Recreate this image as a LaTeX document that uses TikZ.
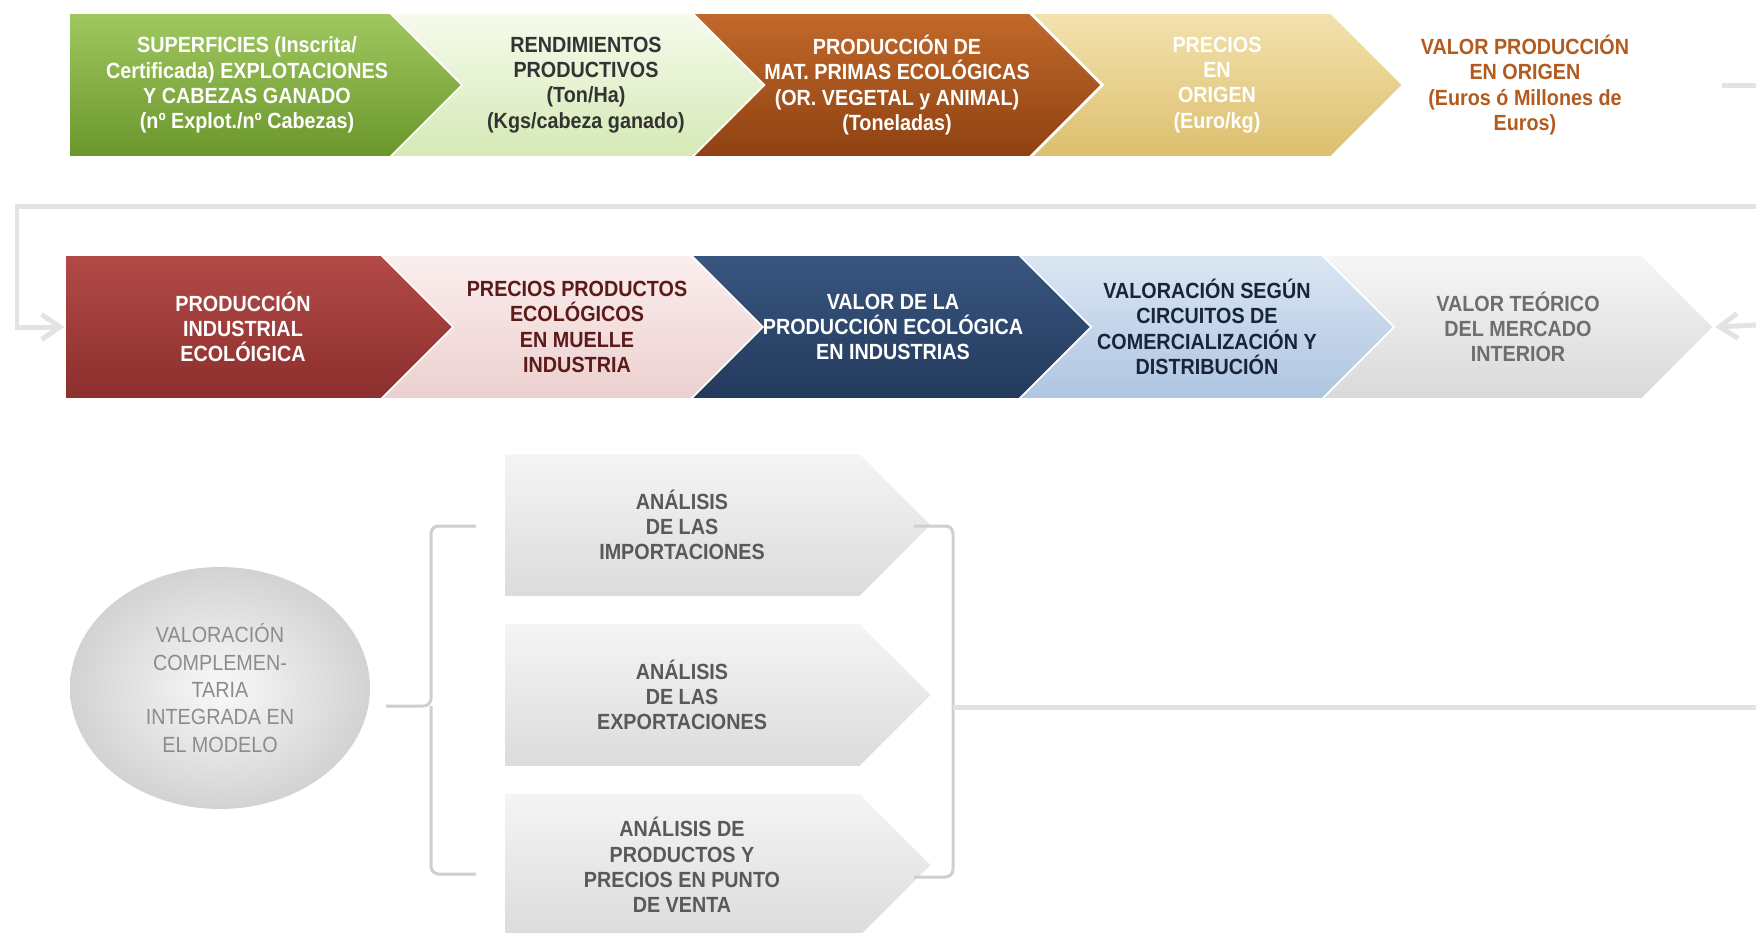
\documentclass[tikz,border=0pt]{standalone}
\usepackage{fontspec}
\setmainfont[FakeStretch=0.9]{Liberation Sans}
\usetikzlibrary{shapes.symbols,shapes.geometric,arrows.meta}
\definecolor{linegray}{HTML}{E3E3E3}
\definecolor{bracegray}{HTML}{CFCFCF}

\begin{document}
\begin{tikzpicture}%
  [x=0.02cm,y=-0.02cm,
   txt/.style={font=\fontsize{12.5}{14.4}\selectfont\bfseries,align=center}]
  \tikzstyle{chev}=[signal,signal to=east,signal from=west,signal pointer angle=90,
    minimum width=7.84cm,minimum height=2.88cm,inner sep=0pt,draw=white,line width=1pt,txt]
  \tikzstyle{first chev}=[chev,signal from=nowhere,minimum width=8.56cm]
  \tikzstyle{conn}=[draw=linegray,line width=0.1cm]
  \tikzstyle{brace}=[draw=bracegray,line width=0.06cm,rounded corners=0.15cm]
  \tikzstyle{tip}=[-{Straight Barb[length=0.36cm,width=0.5cm]}]
  \useasboundingbox (0,0) rectangle (1756,933);
  \fill[white] (0,0) rectangle (1756,933);
  \node(sup)[first chev,top color={rgb,255:red,160;green,200;blue,96},bottom color={rgb,255:red,106;green,150;blue,44},text=white]
    at (247,85) {SUPERFICIES (Inscrita/\\Certificada) EXPLOTACIONES\\Y CABEZAS GANADO\\(nº Explot./nº Cabezas)};
  \node(rend)[chev,top color={rgb,255:red,246;green,251;blue,236},bottom color={rgb,255:red,213;green,233;blue,181},
    text={rgb,255:red,51;green,51;blue,51}]
    at (586,85) {RENDIMIENTOS\\PRODUCTIVOS\\(Ton/Ha)\\(Kgs/cabeza ganado)};
  \node(prod)[chev,top color={rgb,255:red,194;green,105;blue,43},bottom color={rgb,255:red,142;green,65;blue,18},text=white]
    at (897,85) {PRODUCCIÓN DE\\MAT. PRIMAS ECOLÓGICAS\\(OR. VEGETAL y ANIMAL)\\(Toneladas)};
  \node(prec)[chev,minimum width=7.44cm,top color={rgb,255:red,243;green,226;blue,174},bottom color={rgb,255:red,220;green,191;blue,110},text=white]
    at (1217,85) {PRECIOS\\EN\\ORIGEN\\(Euro/kg)};
  \node(valor)[txt,text={rgb,255:red,179;green,90;blue,31}] at (1525,85)
    {VALOR PRODUCCIÓN\\EN ORIGEN\\(Euros ó Millones de\\Euros)};

  \node(indus)[first chev,top color={rgb,255:red,178;green,74;blue,71},bottom color={rgb,255:red,140;green,47;blue,45},text=white]
    at (243,327) {PRODUCCIÓN\\INDUSTRIAL\\ECOLÓIGICA};
  \node(precind)[chev,top color={rgb,255:red,251;green,238;blue,238},bottom color={rgb,255:red,236;green,208;blue,207},
    text={rgb,255:red,92;green,26;blue,24}]
    at (577,327) {PRECIOS PRODUCTOS\\ECOLÓGICOS\\EN MUELLE\\INDUSTRIA};
  \node(valind)[chev,top color={rgb,255:red,58;green,86;blue,128},bottom color={rgb,255:red,34;green,58;blue,92},text=white]
    at (893,327) {VALOR DE LA\\PRODUCCIÓN ECOLÓGICA\\EN INDUSTRIAS};
  \node(circ)[chev,minimum width=7.52cm,top color={rgb,255:red,219;green,230;blue,243},bottom color={rgb,255:red,174;green,197;blue,225},
    text={rgb,255:red,23;green,36;blue,58}]
    at (1207,327) {VALORACIÓN SEGÚN\\CIRCUITOS DE\\COMERCIALIZACIÓN Y\\DISTRIBUCIÓN};
  \node(teor)[chev,top color={rgb,255:red,246;green,246;blue,246},bottom color={rgb,255:red,217;green,217;blue,217},
    text={rgb,255:red,110;green,110;blue,110}]
    at (1518,327) {VALOR TEÓRICO\\DEL MERCADO\\INTERIOR};

  \node(comp)[ellipse,minimum width=6cm,minimum height=4.84cm,inner color=gray!5,outer color=gray!35,
    font=\fontsize{12.5}{15.6}\selectfont,align=center,text=gray!90] at (220,688)
    {VALORACIÓN\\COMPLEMEN-\\TARIA\\INTEGRADA EN\\EL MODELO};
  \node(imp)[first chev,top color=gray!8,bottom color=gray!28,text=black!65] at (682,525)
    {ANÁLISIS\\DE LAS\\IMPORTACIONES};
  \node(exp)[first chev,top color=gray!8,bottom color=gray!28,text=black!65] at (682,695)
    {ANÁLISIS\\DE LAS\\EXPORTACIONES};
  \node(venta)[first chev,top color=gray!8,bottom color=gray!28,text=black!65] at (682,865)
    {ANÁLISIS DE\\PRODUCTOS Y\\PRECIOS EN PUNTO\\DE VENTA};

  \coordinate(topstub) at (1722,85);
  \coordinate(topedge) at (1756,85);
  \coordinate(loopedge) at (1756,206);
  \coordinate(loopcorner) at (17,206);
  \coordinate(rightedge) at (1756,325);
  \coordinate(lbtop) at (476,526);
  \coordinate(lbbot) at (476,874);
  \coordinate(lbmid) at (431,706);
  \coordinate(lbtip) at (386,706);
  \coordinate(rbtop) at (914,526);
  \coordinate(rbbot) at (914,877);
  \coordinate(rbmid) at (953,707);
  \coordinate(linkedge) at (1756,707);
  \draw[conn] (topstub) -- (topedge);
  \draw[conn,tip] (loopedge) -- (loopcorner) |- (indus.west);
  \draw[conn,tip] (rightedge) -- (teor.east);
  \draw[brace] (lbtop) -| (lbmid) -- (lbtip);
  \draw[brace] (lbbot) -| (lbmid);
  \draw[brace] (rbtop) -| (rbmid);
  \draw[brace] (rbbot) -| (rbmid);
  \draw[conn] (rbmid) -- (linkedge);
\end{tikzpicture}
\end{document}
